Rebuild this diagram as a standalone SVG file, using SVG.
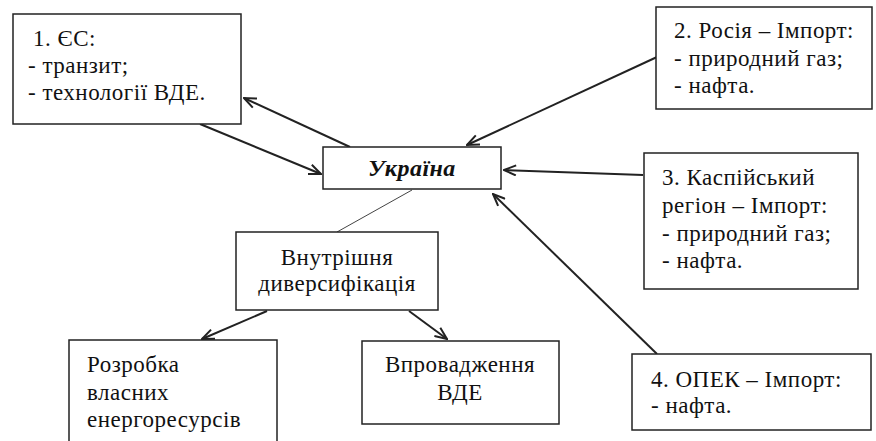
<svg xmlns="http://www.w3.org/2000/svg" width="876" height="441" viewBox="0 0 876 441">
<defs>
<style>
.box{fill:#fff;stroke:#222;stroke-width:1.5}
.t{font-family:'Liberation Serif','Times New Roman',serif;font-size:23px;letter-spacing:0.5px;fill:#111}
.c{text-anchor:middle}
.ua{font-weight:bold;font-style:italic;font-size:24px}
.arr{stroke:#222;stroke-width:2;fill:none;marker-end:url(#ah)}
.thin{stroke:#444;stroke-width:1;fill:none}
</style>
<marker id="ah" viewBox="0 0 14 12" refX="13" refY="6" markerWidth="14" markerHeight="12" markerUnits="userSpaceOnUse" orient="auto">
<path d="M1,1 L13,6 L1,11" fill="none" stroke="#222" stroke-width="2"/>
</marker>
</defs>
<rect width="876" height="441" fill="#fff"/>
<g id="connectors">
<line class="arr" x1="200" y1="124" x2="321" y2="174"/>
<line class="arr" x1="350" y1="147" x2="244" y2="98"/>
<line class="arr" x1="657" y1="57" x2="467" y2="145"/>
<line class="arr" x1="643" y1="175" x2="504" y2="170"/>
<line class="arr" x1="657" y1="354" x2="493" y2="194"/>
<line class="thin" x1="412" y1="190" x2="337" y2="232"/>
<line class="arr" x1="267" y1="311" x2="202" y2="339"/>
<line class="arr" x1="409" y1="311" x2="447" y2="339"/>
</g>
<g id="n1">
<rect class="box" x="13" y="14" width="228" height="110"/>
<text class="t" x="33" y="46">1. ЄС:</text>
<text class="t" x="28" y="73">- транзит;</text>
<text class="t" x="28" y="100">- технології ВДЕ.</text>
</g>
<g id="n2">
<rect class="box" x="656" y="7" width="216" height="102"/>
<text class="t" x="674" y="38" textLength="180">2. Росія – Імпорт:</text>
<text class="t" x="674" y="66">- природний газ;</text>
<text class="t" x="674" y="93">- нафта.</text>
</g>
<g id="ukraine">
<rect class="box" x="323" y="147" width="178" height="42"/>
<text class="t c ua" x="412" y="176">Україна</text>
</g>
<g id="n3">
<rect class="box" x="644" y="153" width="214" height="136"/>
<text class="t" x="662" y="185">3. Каспійський</text>
<text class="t" x="662" y="213">регіон – Імпорт:</text>
<text class="t" x="662" y="241">- природний газ;</text>
<text class="t" x="662" y="268">- нафта.</text>
</g>
<g id="internal">
<rect class="box" x="236" y="232" width="202" height="78"/>
<text class="t c" x="337" y="265">Внутрішня</text>
<text class="t c" x="337" y="291">диверсифікація</text>
</g>
<g id="own">
<rect class="box" x="69" y="340" width="208" height="110"/>
<text class="t" x="87" y="372">Розробка</text>
<text class="t" x="87" y="400">власних</text>
<text class="t" x="87" y="427">енергоресурсів</text>
</g>
<g id="res">
<rect class="box" x="362" y="341" width="197" height="83"/>
<text class="t c" x="460" y="372">Впровадження</text>
<text class="t c" x="460" y="400">ВДЕ</text>
</g>
<g id="n4">
<rect class="box" x="632" y="354" width="239" height="76"/>
<text class="t" x="651" y="387">4. ОПЕК – Імпорт:</text>
<text class="t" x="651" y="413">- нафта.</text>
</g>
</svg>
